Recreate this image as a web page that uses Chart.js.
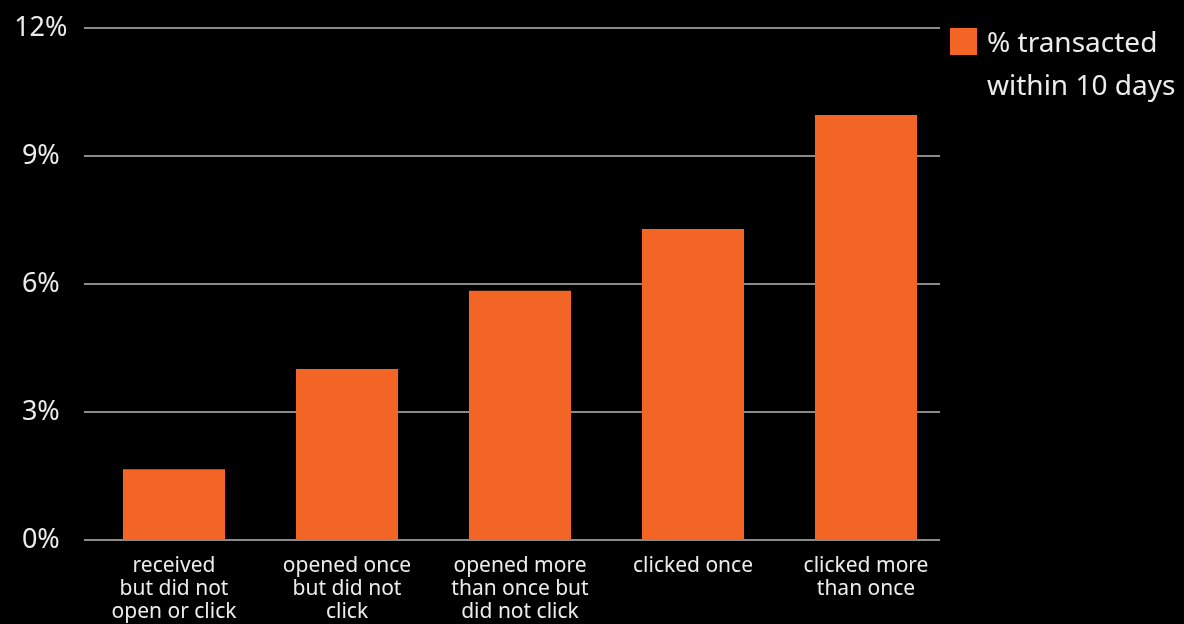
<!DOCTYPE html>
<html>
<head>
<meta charset="utf-8">
<title>% transacted within 10 days</title>
<script src="https://cdn.jsdelivr.net/npm/chart.js@4/dist/chart.umd.min.js"></script>
<style>
  html, body { margin: 0; padding: 0; background: #000; }
  #wrap { width: 1184px; height: 624px; }
</style>
</head>
<body>
<div id="wrap"><canvas id="c" width="1184" height="624"></canvas></div>
<script>
// Email engagement segments (multi-line axis labels)
const categories = [
  ["received", "but did not", "open or click"],
  ["opened once", "but did not", "click"],
  ["opened more", "than once but", "did not click"],
  ["clicked once"],
  ["clicked more", "than once"]
];
// Share of recipients who transacted within 10 days, in percent
const transactedPct = [1.66, 4.01, 5.84, 7.29, 9.96];
// Value axis ticks, in percent
const yTicks = [0, 3, 6, 9, 12];
// Legend text, shown on two lines
const legendLines = ["% transacted", "within 10 days"];

const FONT = "'Noto Sans', 'Open Sans', sans-serif";
const TEXT = "#ececec";
const BAR = "#f26524";
const GRID = "#8a8a8a";

// Horizontal gridlines, drawn at the y-scale tick positions over a fixed span
const gridPlugin = {
  id: 'gridSpan',
  beforeDatasetsDraw(chart) {
    const y = chart.scales.y;
    const ctx = chart.ctx;
    ctx.save();
    ctx.strokeStyle = GRID;
    ctx.lineWidth = 2;
    y.ticks.forEach(t => {
      const py = Math.round(y.getPixelForValue(t.value));
      ctx.beginPath();
      ctx.moveTo(84, py);
      ctx.lineTo(940, py);
      ctx.stroke();
    });
    ctx.restore();
  }
};

// Legend on the right: colour swatch plus two lines of text
const legendPlugin = {
  id: 'sideLegend',
  afterDraw(chart) {
    const ctx = chart.ctx;
    const ds = chart.data.datasets[0];
    ctx.save();
    ctx.fillStyle = ds.backgroundColor;
    ctx.fillRect(950, 28, 27, 27);
    ctx.fillStyle = TEXT;
    ctx.font = "28px " + FONT;
    ctx.textAlign = "left";
    ctx.textBaseline = "alphabetic";
    legendLines.forEach((line, i) => {
      ctx.fillText(line, 987, 52 + i * 43);
    });
    ctx.restore();
  }
};

new Chart(document.getElementById('c'), {
  type: 'bar',
  data: {
    labels: categories,
    datasets: [{
      label: legendLines.join(' '),
      data: transactedPct,
      backgroundColor: BAR,
      borderWidth: 0,
      barPercentage: 0.59,
      categoryPercentage: 1.0
    }]
  },
  options: {
    responsive: false,
    animation: false,
    devicePixelRatio: 1,
    layout: { padding: { top: 28, right: 231.5, left: 0, bottom: 0 } },
    plugins: {
      legend: { display: false },
      tooltip: { enabled: false }
    },
    scales: {
      x: {
        grid: { display: false, drawTicks: false },
        border: { display: false },
        ticks: {
          color: TEXT,
          font: { family: FONT, size: 21, lineHeight: 1.08 },
          padding: 15,
          maxRotation: 0,
          autoSkip: false
        },
        afterFit(scale) { scale.height = 84; }
      },
      y: {
        min: 0,
        max: 12,
        afterBuildTicks(scale) { scale.ticks = yTicks.map(v => ({ value: v })); },
        grid: { display: false, drawTicks: false },
        border: { display: false },
        ticks: {
          color: TEXT,
          font: { family: FONT, size: 27 },
          padding: 20,
          crossAlign: 'center',
          callback: v => v + '%'
        },
        afterFit(scale) {
          scale.width = 87.5;
          scale.paddingTop = 0;
          scale.paddingBottom = 0;
        }
      }
    }
  },
  plugins: [gridPlugin, legendPlugin]
});
</script>
</body>
</html>
